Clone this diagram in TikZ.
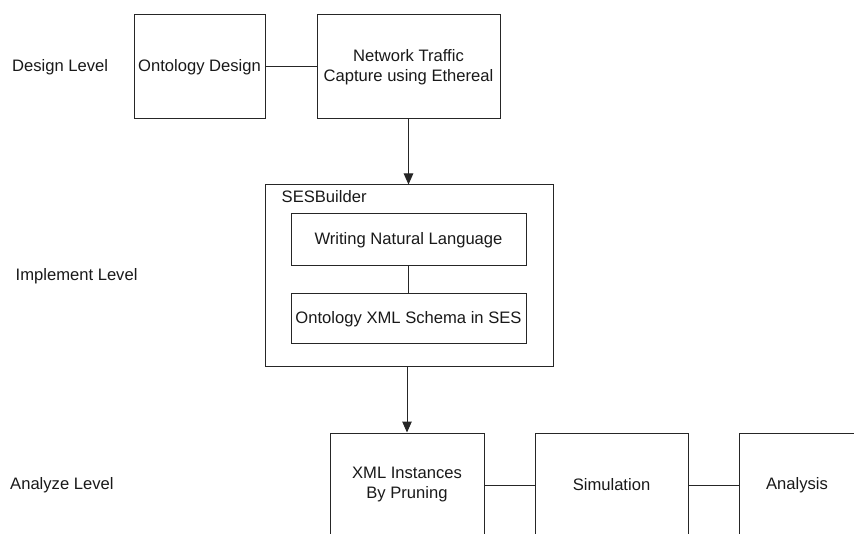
\documentclass[tikz,border=0pt]{standalone}
\usepackage{fontspec}
\setmainfont{Liberation Sans}
\usetikzlibrary{arrows.meta}
\begin{document}
\begin{tikzpicture}[x=1pt,y=-1pt,
  every node/.style={font=\fontsize{16.6}{20}\selectfont, text=black!90},
  box/.style={draw=black!85, line width=1pt, align=center, inner sep=0pt},
  link/.style={draw=black!85, line width=1pt},
  flow/.style={link, -{Triangle[length=11pt,width=9.5pt]}},
  level/.style={anchor=west, inner sep=0pt}]
\useasboundingbox (0,0) rectangle (854,534);
\clip (0,0) rectangle (854,534);

% level captions
\node[level] (lvD) at (12,67)  {Design Level};
\node[level] (lvI) at (15.5,276) {Implement Level};
\node[level] (lvA) at (10,485) {Analyze Level};

% design level
\node[box, minimum width=131pt, minimum height=104pt] (ont) at (199.5,67) {Ontology Design};
\node[box, minimum width=183pt, minimum height=104pt] (net) at (408.5,67) {Network Traffic\\Capture using Ethereal};
\draw[link] (ont.east) -- (net.west);

% implement level
\node[box, minimum width=288pt, minimum height=182pt] (ses) at (409,276) {};
\node[anchor=west, inner sep=0pt] (sesl) at (281.5,197) {SESBuilder};
\node[box, minimum width=235pt, minimum height=52pt] (wnl) at (408.5,240) {Writing Natural Language};
\node[box, minimum width=235pt, minimum height=50pt] (oxs) at (408.5,319) {Ontology XML Schema in SES};
\draw[link] (wnl.south) -- (oxs.north);
\draw[flow] (net.south) -- (net.south |- ses.north);

% analyze level: boxes run on past the lower edge
\node[box, minimum width=154pt, minimum height=120pt] (xml) at (407,493) {};
\node[box, minimum width=153pt, minimum height=120pt] (sim) at (611.5,493) {};
\node[box, minimum width=153pt, minimum height=120pt] (ana) at (815.5,493) {};
\node[align=center] (xmlt) at (407,485) {XML Instances\\By Pruning};
\node (simt) at (611.5,485) {Simulation};
\node (anat) at (797,485) {Analysis};
\draw[link] (xml.east |- xmlt) -- (sim.west |- simt);
\draw[link] (sim.east |- simt) -- (ana.west |- anat);
\draw[flow] (ses.south -| xml.north) -- (xml.north);
\end{tikzpicture}
\end{document}
